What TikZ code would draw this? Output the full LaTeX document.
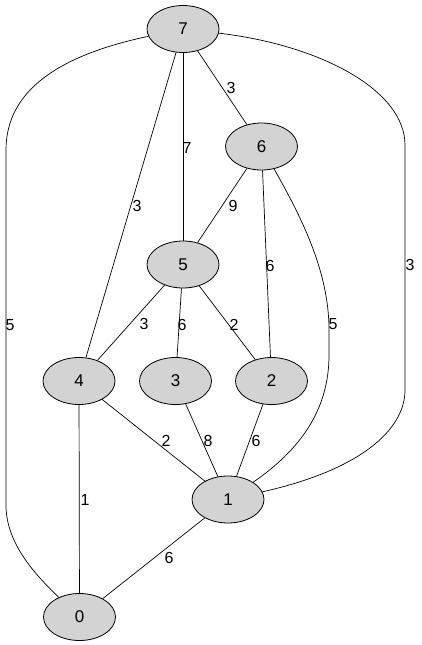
\documentclass[tikz,border=0pt]{standalone}
\usepackage{fontspec}
\setmainfont{Liberation Sans}
\usetikzlibrary{shapes.geometric}
\definecolor{nodegray}{RGB}{211,211,211}
\begin{document}
\begin{tikzpicture}[x=1pt,y=-1pt,
  vert/.style={ellipse,draw=black,line width=0.8pt,fill=nodegray,minimum width=72pt,minimum height=47pt,inner sep=0pt,font=\fontsize{17}{20}\selectfont},
  elabel/.style={inner sep=0pt,font=\fontsize{16}{19}\selectfont},
  edge/.style={draw=black,line width=0.7pt}]
\useasboundingbox (0,0) rectangle (421,645);
\fill[white] (0,0) rectangle (421,645);
% nodes
\node[vert] (n7) at (183,29) {7};
\node[vert] (n6) at (261.5,146.5) {6};
\node[vert] (n5) at (183,264.5) {5};
\node[vert] (n4) at (79,381) {4};
\node[vert] (n3) at (175.5,381) {3};
\node[vert] (n2) at (271.5,381) {2};
\node[vert] (n1) at (228,499.5) {1};
\node[vert] (n0) at (79.5,617) {0};
% connectors
\path[edge] (n7) -- (n6);
\path[edge] (n7) -- (n5);
\path[edge] (n7) -- (n4);
\path[edge] (n6) -- (n5);
\path[edge] (n6) -- (n2);
\path[edge] (n5) -- (n4);
\path[edge] (n5) -- (n3);
\path[edge] (n5) -- (n2);
\path[edge] (n4) -- (n1);
\path[edge] (n3) -- (n1);
\path[edge] (n2) -- (n1);
\path[edge] (n4) -- (n0);
\path[edge] (n1) -- (n0);
\path[edge] (n7) .. controls (60,55) and (6,90) .. (6,150) -- (6,505) .. controls (6,540) and (30,570) .. (n0);
\path[edge] (n7) .. controls (320,45) and (405,90) .. (405,145) -- (405,390) .. controls (405,430) and (360,470) .. (n1);
\path[edge] (n6) .. controls (300,215) and (329,270) .. (329,330) -- (329,355) .. controls (329,410) and (300,450) .. (n1);
% edge labels
\node[elabel] (l76) at (231,88) {3};
\node[elabel] (l75) at (187,148) {7};
\node[elabel] (l74) at (137,206) {3};
\node[elabel] (l65) at (233,206) {9};
\node[elabel] (l62) at (270,266) {6};
\node[elabel] (l61) at (333,324) {5};
\node[elabel] (l71) at (410,265) {3};
\node[elabel] (l70) at (10,325) {5};
\node[elabel] (l54) at (144,324) {3};
\node[elabel] (l53) at (182,325) {6};
\node[elabel] (l52) at (234,325) {2};
\node[elabel] (l41) at (166,441) {2};
\node[elabel] (l31) at (208,441) {8};
\node[elabel] (l21) at (256,441) {6};
\node[elabel] (l40) at (85,500) {1};
\node[elabel] (l10) at (169,558) {6};
\end{tikzpicture}
\end{document}
